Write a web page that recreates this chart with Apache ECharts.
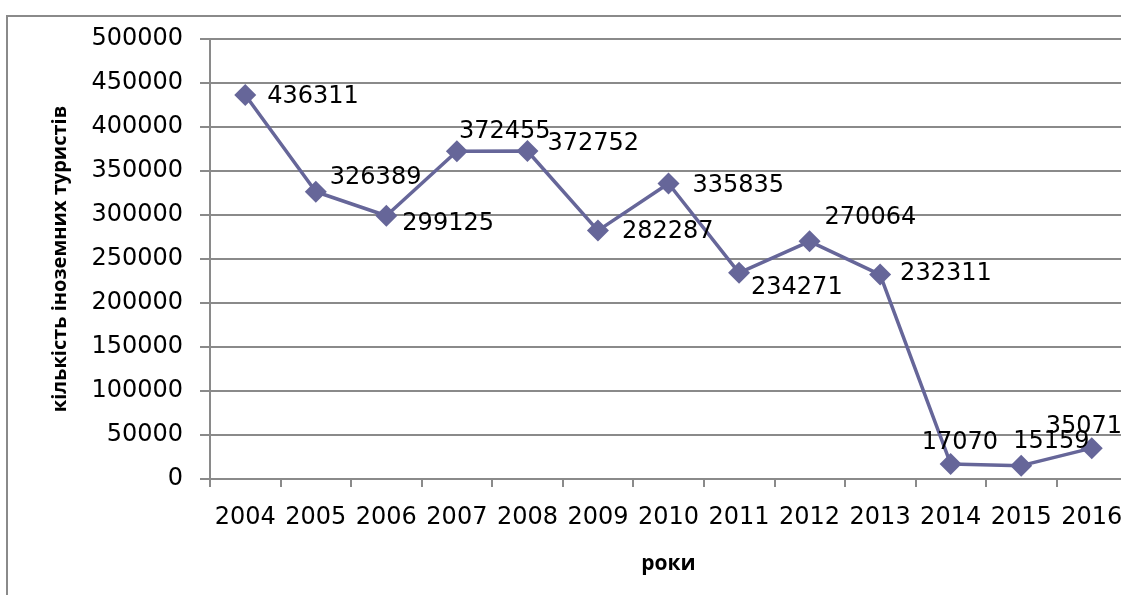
<!DOCTYPE html>
<html>
<head>
<meta charset="utf-8">
<script src="https://cdn.jsdelivr.net/npm/echarts@6/dist/echarts.min.js"></script>
<style>
html,body{margin:0;padding:0;background:#fff;overflow:hidden;width:1121px;height:595px;}
#chart{width:1160px;height:595px;}
</style>
</head>
<body>
<div id="chart"></div>
<script>
const years = ['2004','2005','2006','2007','2008','2009','2010','2011','2012','2013','2014','2015','2016'];
const tourists = [436311, 326389, 299125, 372455, 372752, 282287, 335835, 234271, 270064, 232311, 17070, 15159, 35071];
const yTicks = [0, 50000, 100000, 150000, 200000, 250000, 300000, 350000, 400000, 450000, 500000];
const yTitle = 'кількість іноземних туристів';
const xTitle = 'роки';

// label placement offsets (style only)
const labelOffsets = [[22,2],[14,-14],[16,8],[2,-19],[20,-7],[24,1],[24,2],[12,15],[15,-24],[20,-1],[-29,-21],[-8,-24],[-46,-21]];

const chart = echarts.init(document.getElementById('chart'));
const gray = '#8a8a8a';
const txtFont = 'DejaVu Sans';

chart.setOption({
  animation: false,
  backgroundColor: '#fff',
  grid: { left: 210, top: 39, width: 917, height: 440, containLabel: false },
  graphic: [{
    type: 'rect',
    shape: { x: 7, y: 16, width: 1300, height: 800 },
    style: { fill: 'none', stroke: gray, lineWidth: 2 },
    silent: true, z: -1
  }],
  xAxis: {
    type: 'category',
    data: years,
    boundaryGap: true,
    name: xTitle,
    nameLocation: 'middle',
    nameGap: 75,
    nameTextStyle: { fontFamily: 'Open Sans', fontWeight: 'bold', fontSize: 21, color: '#000' },
    axisLine: { show: true, lineStyle: { color: gray, width: 2 } },
    axisTick: { show: true, length: 8, alignWithLabel: false, lineStyle: { color: gray, width: 2 } },
    axisLabel: { interval: 0, margin: 27, fontFamily: txtFont, fontSize: 24, color: '#000' },
    splitLine: { show: false }
  },
  yAxis: {
    type: 'value',
    min: yTicks[0],
    max: yTicks[yTicks.length - 1],
    interval: yTicks[1] - yTicks[0],
    name: yTitle,
    nameLocation: 'middle',
    nameRotate: 90,
    nameGap: 140,
    nameTextStyle: { fontFamily: 'Open Sans', fontWeight: 'bold', fontSize: 20, color: '#000' },
    axisLine: { show: true, lineStyle: { color: gray, width: 2 } },
    axisTick: { show: true, length: 10, inside: false, lineStyle: { color: gray, width: 2 } },
    axisLabel: { margin: 27, fontFamily: txtFont, fontSize: 24, color: '#000', formatter: v => String(v) },
    splitLine: { show: true, lineStyle: { color: gray, width: 2 } }
  },
  series: [{
    type: 'line',
    data: tourists.map((v, i) => ({
      value: v,
      label: { offset: labelOffsets[i] }
    })),
    symbol: 'diamond',
    symbolSize: 22,
    lineStyle: { color: '#666699', width: 3.5 },
    itemStyle: { color: '#666699' },
    label: {
      show: true,
      position: 'inside',
      align: 'left',
      verticalAlign: 'middle',
      fontFamily: txtFont,
      fontSize: 24,
      color: '#000',
      formatter: p => String(p.value)
    },
    z: 3
  }]
});
</script>
</body>
</html>
